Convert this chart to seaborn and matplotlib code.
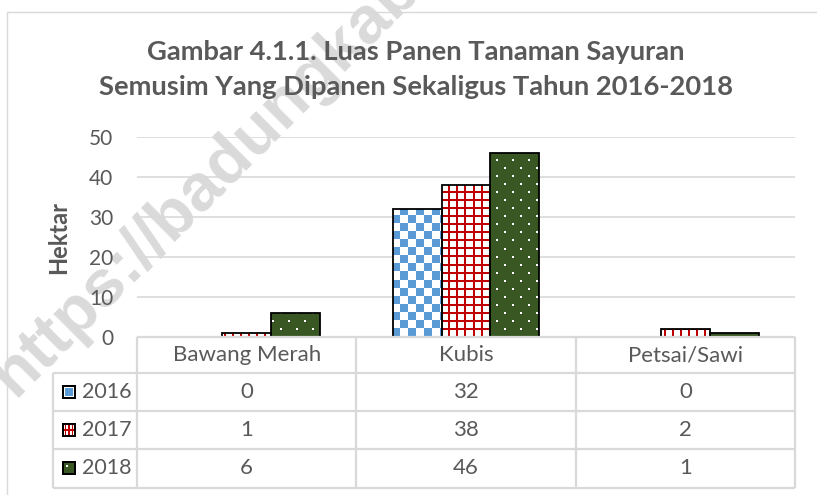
import numpy as np
import pandas as pd
import matplotlib
matplotlib.use('Agg')
import matplotlib.pyplot as plt
import seaborn as sns
from matplotlib.lines import Line2D

# Data dari gambar
kategori = ['Bawang Merah', 'Kubis', 'Petsai/Sawi']
tahun = ['2016', '2017', '2018']
nilai_2016 = [0, 32, 0]
nilai_2017 = [1, 38, 2]
nilai_2018 = [6, 46, 1]
y_ticks = [0, 10, 20, 30, 40, 50]
judul = ['Gambar 4.1.1. Luas Panen Tanaman Sayuran',
         'Semusim Yang Dipanen Sekaligus Tahun 2016-2018']
watermark = 'https://badungkab.bps.go.id'

nilai = {'2016': nilai_2016, '2017': nilai_2017, '2018': nilai_2018}
df = pd.DataFrame({
    'Kategori': kategori * len(tahun),
    'Tahun': [t for t in tahun for _ in kategori],
    'Hektar': nilai_2016 + nilai_2017 + nilai_2018,
})

W, H = 817, 495
abu = '#595959'
garis = '#d9d9d9'
biru, merah, hijau = '#5B9BD5', '#C00000', '#385723'

sns.set_theme(style='white')
plt.rcParams['font.family'] = ['Lato', 'DejaVu Sans']

fig = plt.figure(figsize=(W / 100, H / 100), dpi=100)
fig.patch.set_facecolor('white')

ax = fig.add_axes([137 / W, 1 - 337 / H, (795 - 137) / W, 200 / H], zorder=1)
ax.set_facecolor('none')
sns.barplot(data=df, x='Kategori', y='Hektar', hue='Tahun', order=kategori,
            hue_order=tahun, width=0.67, errorbar=None, legend=False,
            palette=[biru, merah, hijau], ax=ax)
ax.set_xlim(-0.5, 2.5)
ax.set_ylim(0, 50)
ax.set_yticks(y_ticks)
ax.set_xticks([])
ax.set_xlabel('')
ax.set_ylabel('')
ax.yaxis.grid(True, color=garis, lw=1.2)
ax.set_axisbelow(True)
for s in ax.spines.values():
    s.set_visible(False)
ax.tick_params(axis='y', length=0, pad=17, labelsize=15, labelcolor=abu)


def rgb(h):
    h = h.lstrip('#')
    return np.array([int(h[i:i + 2], 16) for i in (0, 2, 4)]) / 255.0


def pola(th, px, py):
    # pola isi ala Excel, dihitung per piksel
    X, Y = np.meshgrid(px, py)
    out = np.ones(X.shape + (3,))
    if th == '2016':
        m = ((X // 8 + Y // 8) % 2) == 0
        out[m] = rgb(biru)
    elif th == '2017':
        m = (X % 8 < 2) | (Y % 8 < 2)
        out[m] = rgb(merah)
    else:
        out[:] = rgb(hijau)
        baris = Y // 8
        m = (Y % 8 < 2) & (((X + (baris % 2) * 8) % 16) < 2)
        out[m] = 1.0
    return out


# isi batang dengan pola
for th, cont in zip(tahun, ax.containers):
    for p in cont.patches:
        if p.get_height() == 0:
            p.set_visible(False)
            continue
        bb = p.get_window_extent()
        px = np.arange(int(round(bb.x0)), int(round(bb.x1)))
        py = np.arange(int(round(H - bb.y1)), int(round(H - bb.y0)))
        img = pola(th, px, py)
        x0, w = p.get_x(), p.get_width()
        im = ax.imshow(img, extent=(x0, x0 + w, 0, p.get_height()), aspect='auto',
                       interpolation='nearest', origin='upper', zorder=0.9)
        im.set_clip_path(p)
        p.set_facecolor('none')
        p.set_edgecolor('black')
        p.set_linewidth(1.3)
        p.set_zorder(1)
ax.set_xlim(-0.5, 2.5)
ax.set_ylim(0, 50)

# overlay dalam koordinat piksel
ov = fig.add_axes([0, 0, 1, 1], zorder=5)
ov.set_xlim(0, W)
ov.set_ylim(H, 0)
ov.axis('off')


def ke_px(x, y):
    a, b = ax.transData.transform((x, y))
    return a, H - b


# bingkai luar
ov.add_line(Line2D([7, 7], [12, H], color=garis, lw=1))
ov.add_line(Line2D([7, W], [12, 12], color=garis, lw=1))

# judul dan label sumbu
for i, t in enumerate(judul):
    ov.text(416, 52 + 35 * i, t, ha='center', va='center', fontsize=19.7,
            fontweight='bold', color=abu)
ov.text(59, 237, 'Hektar', ha='center', va='center', rotation=90, fontsize=17,
        fontweight='bold', color=abu)

# tabel data
kiri_tab = 53
x_tepi = [ke_px(i - 0.5, 0)[0] for i in range(len(kategori))] + [ke_px(len(kategori) - 0.5, 0)[0]]
y_atas = ke_px(0, 0)[1]
y_baris = [y_atas, 373, 411, 449, 488]
kw = dict(color=garis, lw=1.6, solid_capstyle='butt')
ov.add_line(Line2D([x_tepi[0], x_tepi[-1]], [y_baris[0]] * 2, **kw))
for yb in y_baris[1:]:
    ov.add_line(Line2D([kiri_tab, x_tepi[-1]], [yb, yb], **kw))
ov.add_line(Line2D([kiri_tab, kiri_tab], [y_baris[1], y_baris[-1]], **kw))
for xt in x_tepi:
    ov.add_line(Line2D([xt, xt], [y_baris[0], y_baris[-1]], **kw))

for i, k in enumerate(kategori):
    cx = ke_px(i, 0)[0]
    ov.text(cx, (y_baris[0] + y_baris[1]) / 2, k, ha='center', va='center',
            fontsize=16, color=abu)
    for j, th in enumerate(tahun):
        cy = (y_baris[j + 1] + y_baris[j + 2]) / 2
        ov.text(cx, cy, str(nilai[th][i]), ha='center', va='center',
                fontsize=16, color=abu)


def kunci(th):
    k = np.ones((14, 14, 3))
    if th == '2016':
        k[3:11, 3:11] = rgb(biru)
    elif th == '2017':
        k[2:12, 3] = rgb(merah)
        k[2:12, 10] = rgb(merah)
        k[2:12, 6:8] = rgb(merah)
        k[6:8, 2:12] = rgb(merah)
    else:
        k[2:12, 2:12] = rgb(hijau)
        k[4:6, 4:6] = 1.0
    k[:2, :] = 0
    k[-2:, :] = 0
    k[:, :2] = 0
    k[:, -2:] = 0
    return k


for j, th in enumerate(tahun):
    cy = (y_baris[j + 1] + y_baris[j + 2]) / 2
    ov.text(82, cy, th, ha='left', va='center', fontsize=15.5, color=abu)
    fig.figimage(kunci(th), xo=62, yo=int(round(H - cy - 7)), origin='upper', zorder=6)

# watermark (di bawah isi grafik)
fig.text(14 / W, 1 - 398 / H, watermark, rotation=45, rotation_mode='anchor',
         ha='left', va='baseline', fontsize=48, fontweight='bold',
         family='Liberation Sans', color='#dadada', zorder=0.5)

fig.savefig('out.png', dpi=100)
